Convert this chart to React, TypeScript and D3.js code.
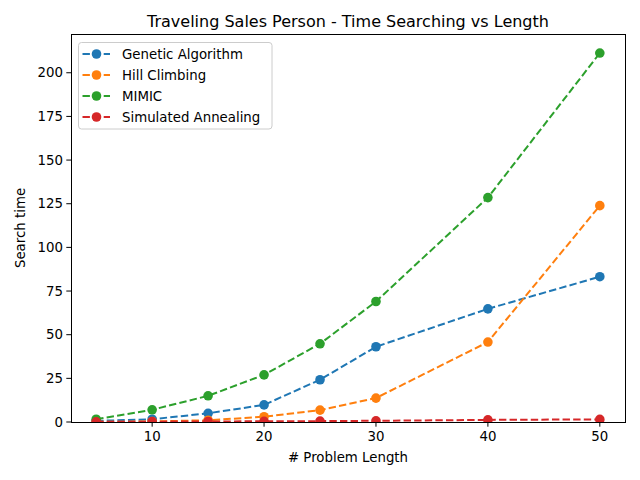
import React from "react";
import * as d3 from "d3";

const lengths = [5, 10, 15, 20, 25, 30, 40, 50];
const geneticTimes = [0.6, 1.6, 5.0, 9.8, 24.2, 43.1, 64.8, 83.2];
const hillTimes = [0.1, 0.3, 1.0, 3.0, 6.8, 13.7, 45.8, 123.9];
const mimicTimes = [1.6, 7.0, 15.0, 27.0, 44.8, 69.0, 128.5, 211.3];
const annealingTimes = [0.1, 0.2, 0.3, 0.4, 0.5, 0.7, 1.2, 1.5];

const seriesNames = ["Genetic Algorithm", "Hill Climbing", "MIMIC", "Simulated Annealing"];
const seriesColors = ["#1f77b4", "#ff7f0e", "#2ca02c", "#d62728"];
const seriesValues = [geneticTimes, hillTimes, mimicTimes, annealingTimes];

const xTicks = [10, 20, 30, 40, 50];
const yTicks = [0, 25, 50, 75, 100, 125, 150, 175, 200];

export default function App() {
  const W = 640;
  const H = 480;
  const plot = { left: 71, right: 625, top: 34, bottom: 422 };
  const font = "'DejaVu Sans', sans-serif";
  const markerR = 4.8;

  const x = d3.scaleLinear().domain([2.75, 52.25]).range([plot.left, plot.right]);
  const y = d3.scaleLinear().domain([0, 222.2]).range([plot.bottom, plot.top]);

  const line = d3
    .line<number>()
    .x((_, i) => x(lengths[i]))
    .y(d => y(d));

  const legendX = 78.5;
  const legendY = 42.5;

  return (
    <svg
      width={W}
      height={H}
      style={{ position: "absolute", left: 0, top: 0, background: "#fff" }}
      fontFamily={font}
    >
      <rect x={0} y={0} width={W} height={H} fill="#fff" />
      <defs>
        <clipPath id="plotClip">
          <rect x={plot.left} y={plot.top} width={plot.right - plot.left} height={plot.bottom - plot.top} />
        </clipPath>
      </defs>

      {/* series */}
      <g clipPath="url(#plotClip)">
        {seriesValues.map((vals, s) => (
          <g key={seriesNames[s]}>
            <path
              d={line(vals) || ""}
              fill="none"
              stroke={seriesColors[s]}
              strokeWidth={2}
              strokeDasharray="7.4 3.2"
            />
            {vals.map((v, i) => (
              <circle key={i} cx={x(lengths[i])} cy={y(v)} r={markerR} fill={seriesColors[s]} />
            ))}
          </g>
        ))}
      </g>

      {/* spines */}
      <rect
        x={plot.left}
        y={plot.top}
        width={plot.right - plot.left}
        height={plot.bottom - plot.top}
        fill="none"
        stroke="#000"
        strokeWidth={1}
        shapeRendering="crispEdges"
      />

      {/* x axis */}
      {xTicks.map(t => (
        <g key={t} transform={`translate(${x(t)},${plot.bottom})`}>
          <line y1={0} y2={4.7} stroke="#000" strokeWidth={1} />
          <text y={19} textAnchor="middle" fontSize={13.33} fill="#000">
            {t}
          </text>
        </g>
      ))}

      {/* y axis */}
      {yTicks.map(t => (
        <g key={t} transform={`translate(${plot.left},${y(t)})`}>
          <line x1={0} x2={-4.7} stroke="#000" strokeWidth={1} />
          <text x={-8} dy="0.35em" textAnchor="end" fontSize={13.33} fill="#000">
            {t}
          </text>
        </g>
      ))}

      {/* labels */}
      <text x={(plot.left + plot.right) / 2} y={27} textAnchor="middle" fontSize={16} fill="#000">
        Traveling Sales Person - Time Searching vs Length
      </text>
      <text x={(plot.left + plot.right) / 2} y={462} textAnchor="middle" fontSize={13.33} fill="#000">
        # Problem Length
      </text>
      <text
        transform={`translate(25,${(plot.top + plot.bottom) / 2}) rotate(-90)`}
        textAnchor="middle"
        fontSize={13.33}
        fill="#000"
      >
        Search time
      </text>

      {/* legend */}
      <rect
        x={legendX}
        y={legendY}
        width={193.5}
        height={86.5}
        rx={3}
        fill="#fff"
        fillOpacity={0.8}
        stroke="#cccccc"
        strokeWidth={1}
      />
      {seriesNames.map((name, s) => {
        const cy = 54 + s * 21;
        return (
          <g key={name}>
            <line
              x1={82.5}
              x2={110}
              y1={cy}
              y2={cy}
              stroke={seriesColors[s]}
              strokeWidth={2}
              strokeDasharray="7.4 3.2"
            />
            <circle cx={96.5} cy={cy} r={markerR} fill={seriesColors[s]} />
            <text x={122} y={cy} dy="0.35em" fontSize={13.33} fill="#000">
              {name}
            </text>
          </g>
        );
      })}
    </svg>
  );
}
